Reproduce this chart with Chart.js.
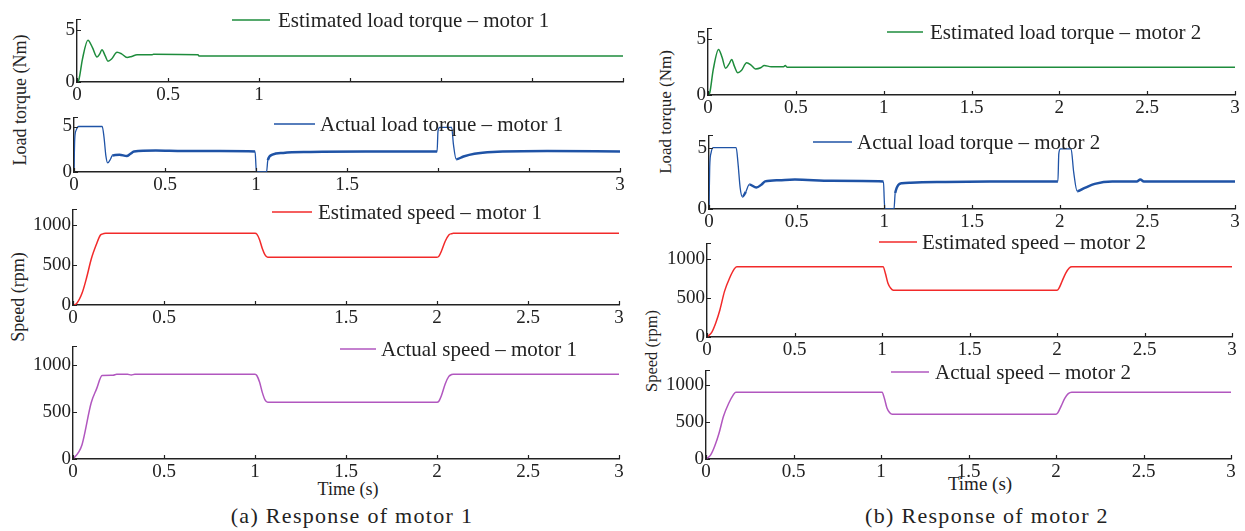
<!DOCTYPE html>
<html>
<head>
<meta charset="utf-8">
<script src="https://cdn.jsdelivr.net/npm/chart.js@4.4.0/dist/chart.umd.min.js"></script>
<style>
  body { margin: 0; width: 1245px; height: 531px; background: #fff; position: relative; overflow: hidden;
         font-family: 'Liberation Serif', 'Times New Roman', serif; color: #222; }
  canvas { position: absolute; }
  .txt { position: absolute; white-space: nowrap; transform: translate(-50%, -50%); line-height: 1; }
  .rot { transform: translate(-50%, -50%) rotate(-90deg); }
</style>
</head>
<body>
<div class="txt rot" style="left:20px;top:100px;font-size:18px">Load torque (Nm)</div>
<div class="txt rot" style="left:18px;top:297px;font-size:18px">Speed (rpm)</div>
<div class="txt rot" style="left:665px;top:112px;font-size:17px">Load torque (Nm)</div>
<div class="txt rot" style="left:652px;top:351px;font-size:16.5px">Speed (rpm)</div>
<div class="txt" style="left:348px;top:489px;font-size:18px">Time (s)</div>
<div class="txt" style="left:980px;top:483px;font-size:19px">Time (s)</div>
<div class="txt" style="left:352px;top:516px;font-size:22px;letter-spacing:1.3px">(a) Response of motor 1</div>
<div class="txt" style="left:987px;top:516px;font-size:22px;letter-spacing:1.3px">(b) Response of motor 2</div>
<script>
// shared axes
const timeTicks = [0, 0.5, 1, 1.5, 2, 2.5, 3];
const torqueTicks = [0, 5];
const speedTicks = [0, 500, 1000];

// which time labels each panel actually prints
const shownTicksA1 = [0, 0.5, 1];
const shownTicksA2 = [0, 0.5, 1, 1.5, 3];
const shownTicksA3 = [0, 0.5, 1.5, 2, 2.5, 3];
const shownTicksAll = [0, 0.5, 1, 1.5, 2, 2.5, 3];

// estimated load torque - motor 1 (Nm)
const estTorque1T = [0, 0.01, 0.03, 0.06, 0.085, 0.11, 0.125, 0.137, 0.155, 0.17, 0.19, 0.22, 0.245, 0.275, 0.3, 0.33, 0.37, 0.41, 0.42, 0.665, 0.67, 3];
const estTorque1V = [0, 0.2, 2.2, 4.0, 3.3, 2.4, 2.7, 3.1, 2.5, 2.0, 2.2, 2.85, 2.7, 2.35, 2.45, 2.6, 2.6, 2.6, 2.65, 2.6, 2.5, 2.5];

// actual load torque - motor 1 (Nm)
const actTorque1T = [0, 0.004, 0.012, 0.025, 0.155, 0.165, 0.175, 0.185, 0.2, 0.21, 0.25, 0.29, 0.31, 0.33, 0.45, 0.6, 0.8, 0.995, 1.0, 1.003, 1.058, 1.065, 1.09, 1.15, 1.3, 1.6, 1.995, 2.0, 2.01, 2.075, 2.085, 2.1, 2.14, 2.2, 2.3, 2.6, 3];
const actTorque1V = [0, 3.6, 4.6, 5.0, 5.0, 3.8, 1.8, 1.0, 1.4, 1.8, 1.9, 1.75, 2.0, 2.25, 2.35, 2.3, 2.3, 2.25, 0.6, 0, 0, 1.3, 1.9, 2.1, 2.2, 2.25, 2.25, 4.5, 4.9, 4.9, 3.0, 1.4, 1.7, 2.0, 2.2, 2.3, 2.25];

// estimated speed - motor 1 (rpm)
const estSpeed1T = [0, 0.02, 0.05, 0.075, 0.1, 0.13, 0.15, 0.16, 0.18, 1.0, 1.01, 1.025, 1.04, 1.055, 1.07, 2.0, 2.01, 2.025, 2.045, 2.065, 2.08, 2.09, 3];
const estSpeed1V = [0, 20, 150, 345, 575, 770, 875, 890, 900, 900, 890, 820, 710, 630, 600, 600, 610, 680, 800, 880, 895, 900, 900];

// actual speed - motor 1 (rpm)
const actSpeed1T = [0, 0.03, 0.05, 0.1, 0.13, 0.16, 0.22, 0.24, 0.3, 0.32, 0.34, 1.0, 1.01, 1.025, 1.04, 1.055, 1.07, 2.0, 2.01, 2.025, 2.045, 2.065, 2.08, 2.09, 3];
const actSpeed1V = [0, 70, 155, 600, 750, 890, 893, 903, 903, 895, 903, 903, 890, 820, 710, 630, 605, 605, 615, 680, 800, 880, 900, 903, 903];

// estimated load torque - motor 2 (Nm)
const estTorque2T = [0, 0.01, 0.03, 0.06, 0.08, 0.1, 0.12, 0.135, 0.15, 0.17, 0.19, 0.22, 0.245, 0.27, 0.3, 0.32, 0.36, 0.43, 0.44, 0.45, 3];
const estTorque2V = [0, 0.2, 2.3, 4.1, 3.4, 2.4, 2.8, 3.2, 2.6, 2.0, 2.2, 2.9, 2.7, 2.35, 2.45, 2.65, 2.55, 2.55, 2.65, 2.5, 2.5];

// actual load torque - motor 2 (Nm)
const actTorque2T = [0, 0.004, 0.012, 0.025, 0.155, 0.165, 0.178, 0.19, 0.21, 0.23, 0.27, 0.3, 0.32, 0.4, 0.49, 0.7, 0.995, 1.0, 1.003, 1.055, 1.062, 1.1, 1.15, 1.3, 1.6, 1.99, 1.995, 2.005, 2.065, 2.08, 2.1, 2.14, 2.2, 2.3, 2.44, 2.46, 2.48, 2.6, 3];
const actTorque2V = [0, 3.4, 4.6, 5.0, 5.0, 3.8, 1.7, 1.0, 1.4, 2.0, 1.75, 2.0, 2.25, 2.35, 2.4, 2.3, 2.25, 0.6, 0, 0, 1.3, 2.1, 2.15, 2.2, 2.25, 2.25, 4.5, 4.9, 4.9, 3.0, 1.45, 1.7, 2.05, 2.25, 2.25, 2.4, 2.25, 2.25, 2.25];

// estimated speed - motor 2 (rpm)
const estSpeed2T = [0, 0.027, 0.05, 0.074, 0.1, 0.13, 0.155, 0.17, 1.006, 1.02, 1.034, 1.05, 1.065, 2.0, 2.01, 2.03, 2.05, 2.07, 2.085, 3];
const estSpeed2V = [0, 60, 180, 350, 585, 760, 870, 900, 900, 810, 690, 625, 600, 600, 620, 720, 820, 885, 900, 900];

// actual speed - motor 2 (rpm)
const actSpeed2T = [0, 0.027, 0.05, 0.074, 0.1, 0.13, 0.155, 0.17, 1.006, 1.02, 1.034, 1.05, 1.065, 2.0, 2.01, 2.03, 2.05, 2.07, 2.09, 3];
const actSpeed2V = [0, 55, 175, 345, 580, 755, 865, 905, 905, 815, 690, 625, 605, 605, 625, 720, 820, 885, 905, 905];

const GREEN = '#1e8c3c', BLUE = '#1f53a6', RED = '#f22a2a', PURPLE = '#b157bf';
const TICK_FONT = { family: "'Liberation Serif', 'Times New Roman', serif", size: 19 };
const LEGEND_FONT = "21px 'Liberation Serif', 'Times New Roman', serif";

// inward tick marks, plus one at the top of the y axis
const tickMarks = {
  id: 'tickMarks',
  afterDraw(chart) {
    const { ctx, chartArea: a, scales: { x, y } } = chart;
    ctx.save();
    ctx.strokeStyle = '#222';
    ctx.lineWidth = 1.2;
    ctx.beginPath();
    x.ticks.forEach(t => {
      const px = Math.round(x.getPixelForValue(t.value)) + 0.5;
      ctx.moveTo(px, a.bottom);
      ctx.lineTo(px, a.bottom - 4);
    });
    y.ticks.concat([{ value: y.max }]).forEach(t => {
      const py = Math.round(y.getPixelForValue(t.value)) + 0.5;
      ctx.moveTo(a.left, py);
      ctx.lineTo(a.left + 4, py);
    });
    ctx.stroke();
    ctx.restore();
  }
};

// legend drawn inside the plot: short line sample + label
const inlineLegend = {
  id: 'inlineLegend',
  afterDraw(chart, args, opts) {
    const ds = chart.data.datasets[0];
    const ctx = chart.ctx;
    ctx.save();
    ctx.strokeStyle = ds.borderColor;
    ctx.lineWidth = 1.4;
    ctx.beginPath();
    ctx.moveTo(opts.x, opts.y);
    ctx.lineTo(opts.x + opts.len, opts.y);
    ctx.stroke();
    ctx.font = LEGEND_FONT;
    ctx.fillStyle = '#222';
    ctx.textBaseline = 'middle';
    ctx.fillText(ds.label, opts.textX, opts.y + 1);
    ctx.restore();
  }
};

// noisy band for measured torque, thin where it jumps or sits on the 5 Nm limit
function noisyWidth(ctx) {
  const y0 = ctx.p0.parsed.y, y1 = ctx.p1.parsed.y;
  const slope = Math.abs(y1 - y0) / Math.max(1e-6, ctx.p1.parsed.x - ctx.p0.parsed.x);
  if (slope > 25 || y0 > 4.7 || y1 > 4.7 || (y0 < 0.1 && y1 < 0.1)) return 1.3;
  return 2.5;
}

const AXW = 50, AXH = 26, PADT = 4, PADR = 14;

function makePanel(p) {
  const canvas = document.createElement('canvas');
  const left = p.x0 - AXW, top = p.yTop - PADT;
  canvas.width = p.x3 - p.x0 + AXW + PADR;
  canvas.height = p.y0 - p.yTop + PADT + AXH;
  canvas.style.left = left + 'px';
  canvas.style.top = top + 'px';
  document.body.appendChild(canvas);

  const dataset = {
    label: p.label,
    data: p.t.map((t, i) => ({ x: t, y: p.v[i] })),
    borderColor: p.color,
    borderWidth: 1.5,
    pointRadius: 0,
    cubicInterpolationMode: 'monotone'
  };
  if (p.noisy) dataset.segment = { borderWidth: noisyWidth };

  return new Chart(canvas, {
    type: 'line',
    data: { datasets: [dataset] },
    options: {
      responsive: false,
      animation: false,
      events: [],
      layout: { padding: { top: PADT, right: PADR, left: 0, bottom: 0 } },
      scales: {
        x: {
          type: 'linear', min: 0, max: 3,
          afterFit: s => { s.height = AXH; },
          afterBuildTicks: s => { s.ticks = timeTicks.map(v => ({ value: v })); },
          grid: { display: false, drawTicks: false },
          border: { color: '#222', width: 1.4 },
          ticks: {
            autoSkip: false, maxRotation: 0, padding: 2, color: '#222', font: TICK_FONT,
            callback: v => p.shown.includes(v) ? String(v) : ''
          }
        },
        y: {
          type: 'linear', min: 0, max: p.yMax,
          afterFit: s => { s.width = AXW; },
          afterBuildTicks: s => { s.ticks = p.yTicks.map(v => ({ value: v })); },
          grid: { display: false, drawTicks: false },
          border: { color: '#222', width: 1.4 },
          ticks: { padding: 2, color: '#222', font: TICK_FONT, callback: v => String(v) }
        }
      },
      plugins: {
        legend: { display: false },
        tooltip: { enabled: false },
        inlineLegend: { x: p.legX - left, y: p.legY - top, len: p.legLen, textX: p.textX - left }
      }
    },
    plugins: [tickMarks, inlineLegend]
  });
}

const panels = [
  { label: 'Estimated load torque \u2013 motor 1', t: estTorque1T, v: estTorque1V, color: GREEN,
    yMax: 6, yTicks: torqueTicks, shown: shownTicksA1,
    x0: 77, x3: 623, yTop: 10, y0: 82, legX: 232, legY: 20, legLen: 38, textX: 278 },
  { label: 'Actual load torque \u2013 motor 1', t: actTorque1T, v: actTorque1V, color: BLUE, noisy: true,
    yMax: 6, yTicks: torqueTicks, shown: shownTicksA2,
    x0: 74, x3: 620, yTop: 108, y0: 172, legX: 274, legY: 124, legLen: 41, textX: 320 },
  { label: 'Estimated speed \u2013 motor 1', t: estSpeed1T, v: estSpeed1V, color: RED,
    yMax: 1200, yTicks: speedTicks, shown: shownTicksA3,
    x0: 73, x3: 619, yTop: 200, y0: 305, legX: 272, legY: 212, legLen: 40, textX: 318 },
  { label: 'Actual speed \u2013 motor 1', t: actSpeed1T, v: actSpeed1V, color: PURPLE,
    yMax: 1200, yTicks: speedTicks, shown: shownTicksAll,
    x0: 73, x3: 619, yTop: 337, y0: 459, legX: 340, legY: 349, legLen: 36, textX: 381 },
  { label: 'Estimated load torque \u2013 motor 2', t: estTorque2T, v: estTorque2V, color: GREEN,
    yMax: 6, yTicks: torqueTicks, shown: shownTicksAll,
    x0: 708, x3: 1235, yTop: 19, y0: 95, legX: 887, legY: 32, legLen: 36, textX: 930 },
  { label: 'Actual load torque \u2013 motor 2', t: actTorque2T, v: actTorque2V, color: BLUE, noisy: true,
    yMax: 6, yTicks: torqueTicks, shown: shownTicksAll,
    x0: 709, x3: 1235, yTop: 126, y0: 209, legX: 813, legY: 142, legLen: 39, textX: 857 },
  { label: 'Estimated speed \u2013 motor 2', t: estSpeed2T, v: estSpeed2V, color: RED,
    yMax: 1200, yTicks: speedTicks, shown: shownTicksAll,
    x0: 707, x3: 1232, yTop: 234, y0: 337, legX: 879, legY: 242, legLen: 38, textX: 922 },
  { label: 'Actual speed \u2013 motor 2', t: actSpeed2T, v: actSpeed2V, color: PURPLE,
    yMax: 1200, yTicks: speedTicks, shown: shownTicksAll,
    x0: 706, x3: 1231, yTop: 361, y0: 459, legX: 891, legY: 372, legLen: 38, textX: 935 }
];

panels.forEach(makePanel);
</script>
</body>
</html>
